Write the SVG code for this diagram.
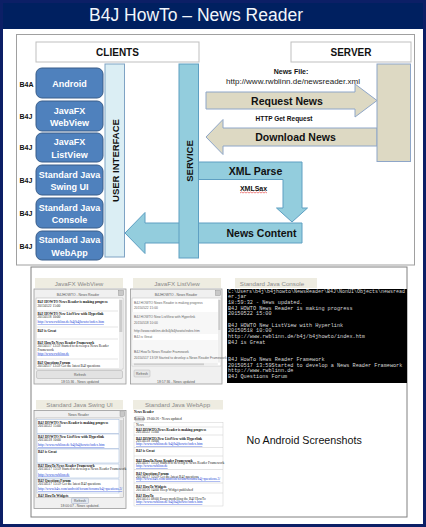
<svg xmlns="http://www.w3.org/2000/svg" width="426" height="527" viewBox="0 0 426 527">
<style>
.t{font-family:"Liberation Sans",Arial,sans-serif}
.b{font-weight:bold}
.lbl{font-family:"Liberation Sans",Arial,sans-serif;font-weight:bold;font-size:7px;fill:#111}
.nodeT{font-family:"Liberation Sans",Arial,sans-serif;font-weight:bold;font-size:9px;fill:#fff;text-anchor:middle}
.cbox{fill:#4f81bd;stroke:#385d8a;stroke-width:1}
.hdr{fill:#fff;stroke:#bfbfbf;stroke-width:1}
.hdrT{font-family:"Liberation Sans",Arial,sans-serif;font-weight:bold;font-size:10px;fill:#111;text-anchor:middle}
.tan{fill:#ddd9c3;stroke:#8ea6c8;stroke-width:1}
.blu{fill:#93cddd;stroke:#5e9fc2;stroke-width:1}
.arT{font-family:"Liberation Sans",Arial,sans-serif;font-weight:bold;font-size:10.5px;fill:#111;text-anchor:middle}
.tab{fill:#eeece1}
.tabT{font-family:"Liberation Sans",Arial,sans-serif;font-size:6.2px;fill:#8a8a8a;text-anchor:middle}
.win{fill:#f0f0f0;stroke:#9a9a9a;stroke-width:0.8}
.wt{font-family:"Liberation Sans",Arial,sans-serif;font-size:3.4px;fill:#555}
.sr{font-family:"Liberation Serif","Times New Roman",serif;font-size:3.5px;fill:#222}
.srb{font-family:"Liberation Serif","Times New Roman",serif;font-size:3.5px;fill:#111;font-weight:bold}
.lk{fill:#1a3fd6;text-decoration:underline}
.ss{font-family:"Liberation Sans",Arial,sans-serif;font-size:3.3px;fill:#666}
.con{font-family:"Liberation Mono","Courier New",monospace;font-size:5.2px;fill:#d8d8d8}
.sep{stroke:#c8c8c8;stroke-width:0.5}
</style>
<rect x="0" y="0" width="426" height="527" fill="#fff"/>
<g id="title">
<rect x="0" y="0" width="426" height="29" fill="#002060"/>
<text class="t" x="196" y="20.5" font-size="17.5" fill="#f2f6fb" text-anchor="middle">B4J HowTo – News Reader</text>
</g>
<rect x="1.5" y="1.5" width="423" height="524" fill="none" stroke="#0c1f66" stroke-width="3"/>

<g id="panel-top">
<rect x="16.5" y="34.5" width="398" height="230.5" fill="#fff" stroke="#a0a0a0"/>
</g>
<g id="clients-header"><rect class="hdr" x="36" y="42" width="163" height="20"/><text class="hdrT" x="117.5" y="55.5">CLIENTS</text></g>
<g id="server-header"><rect class="hdr" x="291" y="42" width="120" height="20"/><text class="hdrT" x="351" y="55.5">SERVER</text></g>

<g id="node-android"><rect class="cbox" x="36" y="68" width="67" height="30" rx="6"/><text class="nodeT" x="69.5" y="86.5">Android</text><text class="lbl" x="19.5" y="87">B4A</text></g>
<g id="node-webview"><rect class="cbox" x="36" y="101" width="67" height="30" rx="6"/><text class="nodeT" x="69.5" y="113.5">JavaFX</text><text class="nodeT" x="69.5" y="126">WebView</text><text class="lbl" x="19.5" y="118.7">B4J</text></g>
<g id="node-listview"><rect class="cbox" x="36" y="133" width="67" height="29" rx="6"/><text class="nodeT" x="69.5" y="145">JavaFX</text><text class="nodeT" x="69.5" y="157.5">ListView</text><text class="lbl" x="19.5" y="150">B4J</text></g>
<g id="node-swing"><rect class="cbox" x="36" y="165" width="67" height="30" rx="6"/><text class="nodeT" x="69.5" y="177.5">Standard Java</text><text class="nodeT" x="69.5" y="190">Swing UI</text><text class="lbl" x="19.5" y="182.5">B4J</text></g>
<g id="node-console"><rect class="cbox" x="36" y="198" width="67" height="30" rx="6"/><text class="nodeT" x="69.5" y="210.5">Standard Java</text><text class="nodeT" x="69.5" y="223">Console</text><text class="lbl" x="19.5" y="215.5">B4J</text></g>
<g id="node-webapp"><rect class="cbox" x="36" y="231" width="67" height="29" rx="6"/><text class="nodeT" x="69.5" y="243">Standard Java</text><text class="nodeT" x="69.5" y="255.5">WebApp</text><text class="lbl" x="19.5" y="249">B4J</text></g>

<g id="connectors">
<path class="tan" d="M206,92 H355 V84 L377,100.5 L355,117 V109 H206 Z"/>
<path class="tan" d="M377,128 H223 V119.5 L206,137 L223,154.5 V146 H377 Z"/>
<path class="blu" d="M198,162 H302 V208 H307.5 L292,222 L276.5,208 H283 V179.5 H198 Z"/>
<path class="blu" d="M302,223 V243 H145 V253.5 L125,233 L145,212.5 V223 Z"/>
<text class="arT" x="287" y="104.5">Request News</text>
<text class="arT" x="295.5" y="140.5">Download News</text>
<text class="arT" x="255.5" y="174.5">XML Parse</text>
<text class="arT" x="261.5" y="237">News Content</text>
<text class="t b" x="291" y="74" font-size="7" fill="#111" text-anchor="middle">News File:</text>
<text class="t" x="293" y="83.5" font-size="8" fill="#1a1a1a" text-anchor="middle">http://www.rwblinn.de/newsreader.xml</text>
<text class="t b" x="284" y="121" font-size="6.5" fill="#111" text-anchor="middle">HTTP Get Request</text>
<text class="t b" x="253.5" y="191" font-size="7" fill="#111" text-anchor="middle">XMLSax</text>
<path d="M240,193 l1.5,-1 l1.5,1 l1.5,-1 l1.5,1 l1.5,-1 l1.5,1 l1.5,-1 l1.5,1 l1.5,-1 l1.5,1 l1.5,-1 l1.5,1 l1.5,-1 l1.5,1 l1.5,-1 l1.5,1 l1.5,-1 l1.5,1" fill="none" stroke="#e03030" stroke-width="0.6"/>
</g>

<g id="user-interface"><rect x="105" y="64" width="19.5" height="193" fill="#dbeef4" stroke="#7fa3c4"/><text class="t b" transform="translate(118.5,160.5) rotate(-90)" font-size="9.5" fill="#111" text-anchor="middle">USER INTERFACE</text></g>
<g id="service"><rect class="blu" x="179" y="64" width="19.5" height="194"/><text class="t b" transform="translate(192.5,161) rotate(-90)" font-size="9.5" fill="#111" text-anchor="middle">SERVICE</text></g>
<g id="server"><rect class="tan" x="377" y="64" width="33.5" height="97.5"/></g>

<g id="panel-bottom">
<rect x="31" y="267" width="376" height="250" fill="#fff" stroke="#808080"/>
</g>

<g id="shot-webview">
<rect class="tab" x="35" y="278" width="88" height="10"/><text class="tabT" x="79" y="285.5">JavaFX WebView</text>
<rect class="win" x="34" y="289" width="92" height="95"/>
<text class="wt" x="78" y="295.5" text-anchor="middle">B4JHOWTO - News Reader</text>
<rect x="118.5" y="290.5" width="5" height="5" fill="#c8c8c8" stroke="#888" stroke-width="0.4"/>
<rect x="36" y="298" width="87" height="71" fill="#fff" stroke="#aaa" stroke-width="0.5"/>
<rect x="119" y="298.5" width="3.5" height="70" fill="#eee"/><rect x="119.3" y="300" width="3" height="32" fill="#ccc"/>
<text class="srb" x="37.5" y="303">B4J HOWTO News Reader is making progress</text>
<text class="sr" x="37.5" y="306.5">20150522 15:00</text>
<line class="sep" x1="37" y1="311" x2="118" y2="311"/>
<text class="srb" x="37.5" y="315">B4J HOWTO New ListView with Hyperlink</text>
<text class="sr" x="37.5" y="318.3">20150518 10:00</text>
<text class="sr lk" x="37.5" y="323">http://www.rwblinn.de/b4j/b4jhowto/index.htm</text>
<line class="sep" x1="37" y1="327" x2="118" y2="327"/>
<text class="srb" x="37.5" y="332">B4J is Great</text>
<line class="sep" x1="37" y1="339" x2="118" y2="339"/>
<text class="srb" x="37.5" y="344">B4J HowTo News Reader Framework</text>
<text class="sr" x="37.5" y="347.3">20150517 13:59 Started to develop a News Reader</text>
<text class="sr" x="37.5" y="350.6">Framework</text>
<text class="sr lk" x="37.5" y="354.5">http://www.rwblinn.de</text>
<line class="sep" x1="37" y1="359" x2="118" y2="359"/>
<text class="srb" x="37.5" y="363.5">B4J Questions Forum</text>
<text class="sr" x="37.5" y="366.8">20150517 13:59 Get the latest B4J questions</text>
<rect x="36.5" y="370.5" width="86" height="8" rx="1.5" fill="#e2e2e2" stroke="#aaa" stroke-width="0.5"/>
<text class="wt" x="80" y="375.8" text-anchor="middle">Refresh</text>
<text class="wt" x="80" y="382.5" font-size="3" text-anchor="middle">18:55:36 - News updated</text>
</g>

<g id="shot-listview">
<rect class="tab" x="133" y="278" width="88" height="10"/><text class="tabT" x="177" y="285.5">JavaFX ListView</text>
<rect class="win" x="130.5" y="289" width="91.5" height="95"/>
<text class="wt" x="176" y="295.5" text-anchor="middle">B4JHOWTO - News Reader</text>
<rect x="215.5" y="290.5" width="5" height="5" fill="#c8c8c8" stroke="#888" stroke-width="0.4"/>
<rect x="132" y="298" width="89" height="68" fill="#fff" stroke="#bbb" stroke-width="0.5"/>
<rect x="132.3" y="312" width="85.5" height="22" fill="#f7f7f7"/>
<rect x="132.3" y="340" width="85.5" height="23" fill="#f7f7f7"/>
<rect x="218" y="298.5" width="2.8" height="64" fill="#eee"/><rect x="218.3" y="300" width="2.2" height="30" fill="#ccc"/>
<rect x="132.3" y="363" width="85.5" height="2.6" fill="#eee"/><rect x="134" y="363.4" width="70" height="1.8" fill="#ccc"/>
<text class="ss" x="134" y="303.5">B4J HOWTO News Reader is making progress</text>
<text class="ss" x="134" y="309" font-size="2.7">20150522 15:00</text>
<text class="ss" x="134" y="317.5">B4J HOWTO New ListView with Hyperlink</text>
<text class="ss" x="134" y="324" font-size="2.7">20150518 10:00</text>
<text class="ss" x="134" y="331.5" font-size="2.7" fill="#3a9bd5">http://www.rwblinn.de/b4j/b4jhowto/index.htm</text>
<text class="ss" x="134" y="338">B4J is Great</text>
<text class="ss" x="134" y="352.5">B4J HowTo News Reader Framework</text>
<text class="ss" x="134" y="359" font-size="2.7">20150517 13:59 Started to develop a News Reader Framework</text>
<rect x="134" y="370" width="16" height="7" rx="1" fill="#e6e6e6" stroke="#aaa" stroke-width="0.4"/>
<text class="wt" x="142" y="374.8" font-size="2.8" text-anchor="middle">Refresh</text>
<text class="wt" x="176" y="382.5" font-size="3" text-anchor="middle">18:57:36 - News updated</text>
</g>

<g id="shot-console">
<rect class="tab" x="235" y="278" width="82" height="10"/><text class="tabT" x="272" y="285.5">Standard Java Console</text>
<rect x="227" y="289" width="180" height="94" fill="#000"/>
<text class="con" x="228" y="292.5" textLength="177" lengthAdjust="spacingAndGlyphs">C:\Users\b4j\b4jhowto\NewsReader\B4J\NonUI\Objects\newsread</text>
<text class="con" x="228" y="298.2">er.jar</text>
<text class="con" x="228" y="303.9">18:59:32 - News updated.</text>
<text class="con" x="228" y="309.6">B4J HOWTO News Reader is making progress</text>
<text class="con" x="228" y="315.3">20150522 15:00</text>
<text class="con" x="228" y="326.7">B4J HOWTO New ListView with Hyperlink</text>
<text class="con" x="228" y="332.4">20150518 10:00</text>
<text class="con" x="228" y="338.1">http://www.rwblinn.de/b4j/b4jhowto/index.htm</text>
<text class="con" x="228" y="343.8">B4J is Great</text>
<text class="con" x="228" y="360.9">B4J HowTo News Reader Framework</text>
<text class="con" x="228" y="366.6">20150517 13:59Started to develop a News Reader Framework</text>
<text class="con" x="228" y="372.3">http://www.rwblinn.de</text>
<text class="con" x="228" y="378">B4J Questions Forum</text>
</g>

<g id="shot-swing">
<rect class="tab" x="36" y="400" width="87" height="9.5"/><text class="tabT" x="79.5" y="407">Standard Java Swing UI</text>
<rect class="win" x="34" y="410.5" width="92" height="98"/>
<text class="wt" x="78.5" y="415.8" font-size="3.8" text-anchor="middle">News Reader</text>
<rect x="120" y="411.8" width="4.5" height="4.5" fill="#c8c8c8" stroke="#888" stroke-width="0.4"/>
<rect x="36" y="418" width="87.5" height="79.5" fill="#fff" stroke="#999" stroke-width="0.5"/>
<rect x="119.5" y="418.5" width="3.5" height="78.5" fill="#eee"/><rect x="119.8" y="420" width="2.9" height="48" fill="#d4d4d4"/>
<g fill="none" stroke="#9ab4d8" stroke-width="0.5">
<rect x="37" y="419.5" width="82" height="14"/><rect x="37" y="434" width="82" height="14.5"/><rect x="37" y="449" width="82" height="14"/><rect x="37" y="464" width="82" height="14"/><rect x="37" y="479" width="82" height="14"/>
</g>
<text class="srb" x="38" y="423.5" font-size="3.2">B4J HOWTO News Reader is making progress</text>
<text class="sr" x="38" y="426.5" font-size="3.2">20150522 15:00</text>
<text class="srb" x="38" y="438" font-size="3.2">B4J HOWTO New ListView with Hyperlink</text>
<text class="sr" x="38" y="441" font-size="3.2">20150518 10:00</text>
<text class="sr lk" x="38" y="446" font-size="3.2">http://www.rwblinn.de/b4j/b4jhowto/index.htm</text>
<text class="srb" x="38" y="453" font-size="3.2">B4J is Great</text>
<text class="srb" x="38" y="467" font-size="3.2">B4J HowTo News Reader Framework</text>
<text class="sr" x="38" y="470.2" font-size="3.2">20150517 13:59 Started to develop a News Reader Framework</text>
<text class="sr lk" x="38" y="475.5" font-size="3.2">http://www.rwblinn.de</text>
<text class="srb" x="38" y="482" font-size="3.2">B4J Questions Forum</text>
<text class="sr" x="38" y="485.2" font-size="3.2">20150517 13:59 Get the latest B4J questions</text>
<text class="sr lk" x="38" y="490.3" font-size="3.2">http://www.b4x.com/android/forum/forums/b4j-questions.3/</text>
<text class="srb" x="38" y="496.5" font-size="3.2">B4J HowTo Widgets</text>
<rect x="71.5" y="498" width="17" height="5.5" rx="1" fill="#e2e8f0" stroke="#8a9ab8" stroke-width="0.4"/>
<text class="wt" x="80" y="502" font-size="2.8" text-anchor="middle">Refresh</text>
<text class="wt" x="80" y="507.3" font-size="2.8" text-anchor="middle">18:00:07 - News updated.</text>
</g>

<g id="shot-webapp">
<rect class="tab" x="133" y="400" width="90" height="9.5"/><text class="tabT" x="177.5" y="407">Standard Java WebApp</text>
<text class="srb" x="134" y="413.2" font-size="3.2">News Reader</text>
<rect x="135" y="416.5" width="9" height="4.5" rx="0.6" fill="#e6e6e6" stroke="#999" stroke-width="0.3"/>
<text class="sr" x="139.5" y="419.7" font-size="2.4" text-anchor="middle">Refresh</text>
<text class="sr" x="146.5" y="420" font-size="2.8">19:00:26 - News updated</text>
<rect x="134" y="422.5" width="89" height="83.5" fill="#fff" stroke="#c4c4c4" stroke-width="0.4"/>
<g class="sep"><line x1="134" y1="427" x2="223" y2="427"/><line x1="134" y1="435" x2="223" y2="435"/><line x1="134" y1="447.5" x2="223" y2="447.5"/><line x1="134" y1="456" x2="223" y2="456"/><line x1="134" y1="469.5" x2="223" y2="469.5"/><line x1="134" y1="483" x2="223" y2="483"/><line x1="134" y1="493" x2="223" y2="493"/></g>
<text class="sr" x="136" y="425.8" font-size="2.6">News</text>
<text class="srb" x="136" y="430.5" font-size="2.9">B4J HOWTO News Reader is making progress</text>
<text class="sr" x="136" y="433.2" font-size="2.6">20150522 15:00</text>
<text class="srb" x="136" y="439.5" font-size="2.9">B4J HOWTO New ListView with Hyperlink</text>
<text class="sr" x="136" y="442.2" font-size="2.6">20150518 10:00</text>
<text class="sr lk" x="136" y="445" font-size="2.6">http://www.rwblinn.de/b4j/b4jhowto/index.htm</text>
<text class="srb" x="136" y="452.3" font-size="2.9">B4J is Great</text>
<text class="srb" x="136" y="461.5" font-size="2.9">B4J HowTo News Reader Framework</text>
<text class="sr" x="136" y="464.2" font-size="2.6">20150517 13:59 Started to develop a News Reader Framework</text>
<text class="sr lk" x="136" y="467" font-size="2.6">http://www.rwblinn.de</text>
<text class="srb" x="136" y="475" font-size="2.9">B4J Questions Forum</text>
<text class="sr" x="136" y="477.7" font-size="2.6">20150517 13:59 Get the latest B4J questions</text>
<text class="sr lk" x="136" y="480.4" font-size="2.6">http://www.b4x.com/android/forum/forums/b4j-questions.3/</text>
<text class="srb" x="136" y="488.2" font-size="2.9">B4J HowTo Widgets</text>
<text class="sr" x="136" y="490.9" font-size="2.6">20150516 14:00 Sleep Widget published</text>
<text class="srb" x="136" y="497" font-size="2.9">B4J HowTo</text>
<text class="sr" x="136" y="500" font-size="2.6">20150515 08:00 Essay modelling the B4J HowTo</text>
<text class="sr lk" x="136" y="503.2" font-size="2.6">http://www.rwblinn.de/b4j/b4jhowto/index.htm</text>
</g>

<g id="no-android"><text class="t" x="246.5" y="443.5" font-size="10.7" fill="#111">No Android Screenshots</text></g>
</svg>
